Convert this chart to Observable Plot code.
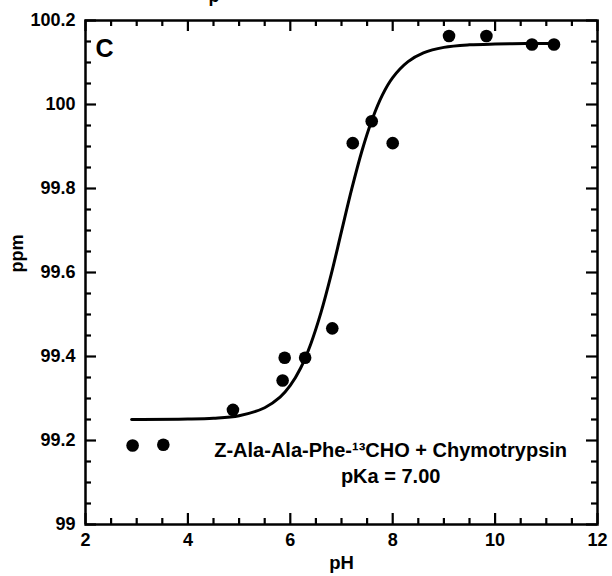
<!DOCTYPE html>
<html>
<head>
<meta charset="utf-8">
<script src="https://cdn.jsdelivr.net/npm/d3@7"></script>
<script src="https://cdn.jsdelivr.net/npm/@observablehq/plot@0.6"></script>
<style>
  html, body { margin: 0; padding: 0; background: #fff; }
</style>
</head>
<body>
<div id="chart"></div>
<script>
// Observed chemical shifts
const phObs  = [2.92, 3.52, 4.88, 5.85, 5.89, 6.29, 6.82, 7.22, 7.59, 8.00, 9.10, 9.83, 10.72, 11.15];
const ppmObs = [99.188, 99.190, 99.273, 99.343, 99.397, 99.397, 99.467, 99.908, 99.960, 99.908, 100.163, 100.163, 100.143, 100.143];

// Fitted titration curve
const curvePh  = [2.9, 4.0, 4.5, 5.0, 5.5, 5.8, 6.0, 6.2, 6.4, 6.6, 6.8, 7.0, 7.2, 7.4, 7.6, 7.8, 8.0, 8.3, 8.6, 9.0, 9.5, 10.0, 10.6, 11.15];
const curvePpm = [99.250, 99.251, 99.253, 99.259, 99.278, 99.303, 99.331, 99.372, 99.430, 99.505, 99.596, 99.698, 99.799, 99.890, 99.965, 100.023, 100.064, 100.102, 100.123, 100.136, 100.142, 100.144, 100.145, 100.145];

// Axis ticks and labels
const xMajor = [2, 4, 6, 8, 10, 12];
const xMajorLabels = ["2", "4", "6", "8", "10", "12"];
const xMinor = [2.5, 3, 3.5, 4.5, 5, 5.5, 6.5, 7, 7.5, 8.5, 9, 9.5, 10.5, 11, 11.5];
const yMajor = [99, 99.2, 99.4, 99.6, 99.8, 100, 100.2];
const yMajorLabels = ["99", "99.2", "99.4", "99.6", "99.8", "100", "100.2"];
const yMinor = [99.05, 99.1, 99.15, 99.25, 99.3, 99.35, 99.45, 99.5, 99.55, 99.65, 99.7, 99.75, 99.85, 99.9, 99.95, 100.05, 100.1, 100.15];

const panelLabel = ["C"];
const xTitle = ["pH"];
const yTitle = ["ppm"];
const annotation = ["Z-Ala-Ala-Phe-\u00B9\u00B3CHO + Chymotrypsin", "pKa = 7.00"];
const topFragment = ["p"];

const points = phObs.map((x, i) => ({x, y: ppmObs[i]}));
const curve = curvePh.map((x, i) => ({x, y: curvePpm[i]}));

const W = 612, H = 576, mL = 85, mR = 15, mT = 20, mB = 52;
const innerW = W - mL - mR, innerH = H - mT - mB;
const xDom = [2, 12], yDom = [99, 100.2];
const majorLen = 11, minorLen = 6;

const tickStyle = {stroke: "#000", strokeWidth: 2.2};

const chart = Plot.plot({
  width: W,
  height: H,
  marginLeft: mL,
  marginRight: mR,
  marginTop: mT,
  marginBottom: mB,
  style: {
    fontFamily: "'Liberation Sans', Arial, Helvetica, sans-serif",
    fontWeight: "bold",
    fontSize: "18px",
    background: "#fff",
    color: "#000",
    overflow: "visible"
  },
  x: {
    domain: xDom,
    ticks: xMajor,
    tickSize: 0,
    tickPadding: 9,
    tickFormat: d => xMajorLabels[xMajor.indexOf(d)],
    label: null
  },
  y: {
    domain: yDom,
    ticks: yMajor,
    tickSize: 0,
    tickPadding: 10,
    tickFormat: d => yMajorLabels[yMajor.indexOf(d)],
    label: null
  },
  marks: [
    // inward ticks: bottom & top
    Plot.tickX(xMajor, {x: d => d, insetTop: innerH - majorLen, ...tickStyle}),
    Plot.tickX(xMinor, {x: d => d, insetTop: innerH - minorLen, ...tickStyle}),
    Plot.tickX(xMajor, {x: d => d, insetBottom: innerH - majorLen, ...tickStyle}),
    Plot.tickX(xMinor, {x: d => d, insetBottom: innerH - minorLen, ...tickStyle}),
    // inward ticks: left & right
    Plot.tickY(yMajor, {y: d => d, insetRight: innerW - majorLen, ...tickStyle}),
    Plot.tickY(yMinor, {y: d => d, insetRight: innerW - minorLen, ...tickStyle}),
    Plot.tickY(yMajor, {y: d => d, insetLeft: innerW - majorLen, ...tickStyle}),
    Plot.tickY(yMinor, {y: d => d, insetLeft: innerW - minorLen, ...tickStyle}),
    Plot.frame({stroke: "#000", strokeWidth: 2.5, fill: "none"}),
    // fitted curve
    Plot.line(curve, {x: "x", y: "y", stroke: "#000", strokeWidth: 3, curve: "catmull-rom"}),
    // data points
    Plot.dot(points, {x: "x", y: "y", r: 6.3, fill: "#000", stroke: "none"}),
    // panel label
    Plot.text(panelLabel, {frameAnchor: "top-left", dx: 10, dy: 28, textAnchor: "start", lineAnchor: "middle", fontSize: 25, fontWeight: "bold"}),
    // annotation
    Plot.text([annotation[0]], {x: 7.96, y: 99.177, fontSize: 20, fontWeight: "bold"}),
    Plot.text([annotation[1]], {x: 7.96, y: 99.114, fontSize: 20, fontWeight: "bold"}),
    // axis titles
    Plot.text(xTitle, {frameAnchor: "bottom", dy: 44, fontSize: 18.5, fontWeight: "bold"}),
    Plot.text(yTitle, {frameAnchor: "left", dx: -68, rotate: -90, fontSize: 18, fontWeight: "bold"}),
    // clipped fragment of the panel above
    Plot.text(topFragment, {x: 4.40, y: yDom[1], dy: -24, textAnchor: "start", fontSize: 18, fontWeight: "bold"})
  ]
});

document.getElementById("chart").appendChild(chart);
</script>
</body>
</html>
